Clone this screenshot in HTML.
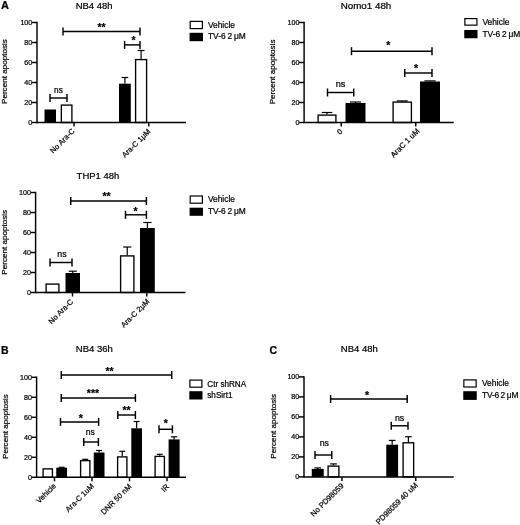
<!DOCTYPE html>
<html><head><meta charset="utf-8"><title>Figure</title>
<style>
html,body{margin:0;padding:0;background:#fff;}
body{width:520px;height:525px;overflow:hidden;}
svg{display:block;}
svg text{font-family:"Liberation Sans", Arial, Helvetica, sans-serif;fill:#000;stroke:#000;stroke-width:0.22px;}
</style></head><body>
<svg width="520" height="525" viewBox="0 0 520 525">
<rect x="0" y="0" width="520" height="525" fill="#fff"/>
<text x="1.00" y="9.40" font-size="11" text-anchor="start" font-weight="bold">A</text>
<text x="94.10" y="9.20" font-size="9.45" text-anchor="middle" font-weight="normal">NB4 48h</text>
<rect x="44.50" y="109.50" width="11.50" height="13.00" fill="#000"/>
<rect x="61.35" y="105.10" width="10.55" height="17.40" fill="#fff" stroke="#000" stroke-width="1.35"/>
<line x1="124.90" y1="77.50" x2="124.90" y2="83.70" stroke="#000" stroke-width="1.2"/>
<line x1="121.60" y1="77.50" x2="128.20" y2="77.50" stroke="#000" stroke-width="1.2"/>
<rect x="119.00" y="83.70" width="11.80" height="38.80" fill="#000"/>
<line x1="141.10" y1="50.50" x2="141.10" y2="59.00" stroke="#000" stroke-width="1.2"/>
<line x1="137.68" y1="50.50" x2="144.52" y2="50.50" stroke="#000" stroke-width="1.2"/>
<rect x="135.60" y="59.60" width="11.00" height="62.90" fill="#fff" stroke="#000" stroke-width="1.35"/>
<line x1="37.00" y1="21.77" x2="37.00" y2="123.22" stroke="#000" stroke-width="1.45"/>
<line x1="32.00" y1="122.50" x2="37.00" y2="122.50" stroke="#000" stroke-width="1.45"/>
<text x="32.30" y="125.05" font-size="7.15" text-anchor="end" font-weight="normal">0</text>
<line x1="32.00" y1="102.50" x2="37.00" y2="102.50" stroke="#000" stroke-width="1.45"/>
<text x="32.30" y="105.05" font-size="7.15" text-anchor="end" font-weight="normal">20</text>
<line x1="32.00" y1="82.50" x2="37.00" y2="82.50" stroke="#000" stroke-width="1.45"/>
<text x="32.30" y="85.05" font-size="7.15" text-anchor="end" font-weight="normal">40</text>
<line x1="32.00" y1="62.50" x2="37.00" y2="62.50" stroke="#000" stroke-width="1.45"/>
<text x="32.30" y="65.05" font-size="7.15" text-anchor="end" font-weight="normal">60</text>
<line x1="32.00" y1="42.50" x2="37.00" y2="42.50" stroke="#000" stroke-width="1.45"/>
<text x="32.30" y="45.05" font-size="7.15" text-anchor="end" font-weight="normal">80</text>
<line x1="32.00" y1="22.50" x2="37.00" y2="22.50" stroke="#000" stroke-width="1.45"/>
<text x="32.30" y="25.05" font-size="7.15" text-anchor="end" font-weight="normal">100</text>
<text x="7.50" y="71.60" font-size="8.1" text-anchor="middle" font-weight="normal" transform="rotate(-90 7.50 71.60)">Percent apoptosis</text>
<line x1="37.00" y1="122.50" x2="186.00" y2="122.50" stroke="#000" stroke-width="1.45"/>
<line x1="74.00" y1="122.50" x2="74.00" y2="126.50" stroke="#000" stroke-width="1.45"/>
<line x1="148.75" y1="122.50" x2="148.75" y2="126.50" stroke="#000" stroke-width="1.45"/>
<line x1="50.00" y1="98.00" x2="67.00" y2="98.00" stroke="#000" stroke-width="1.45"/>
<line x1="50.00" y1="94.00" x2="50.00" y2="102.00" stroke="#000" stroke-width="1.45"/>
<line x1="67.00" y1="94.00" x2="67.00" y2="102.00" stroke="#000" stroke-width="1.45"/>
<text x="58.50" y="92.50" font-size="8.3" text-anchor="middle" font-weight="normal">ns</text>
<line x1="124.60" y1="44.90" x2="140.00" y2="44.90" stroke="#000" stroke-width="1.45"/>
<line x1="124.60" y1="40.90" x2="124.60" y2="48.90" stroke="#000" stroke-width="1.45"/>
<line x1="140.00" y1="40.90" x2="140.00" y2="48.90" stroke="#000" stroke-width="1.45"/>
<text x="133.50" y="44.40" font-size="10.5" text-anchor="middle" font-weight="bold">*</text>
<line x1="63.00" y1="31.40" x2="140.00" y2="31.40" stroke="#000" stroke-width="1.45"/>
<line x1="63.00" y1="27.40" x2="63.00" y2="35.40" stroke="#000" stroke-width="1.45"/>
<line x1="140.00" y1="27.40" x2="140.00" y2="35.40" stroke="#000" stroke-width="1.45"/>
<text x="101.50" y="30.90" font-size="10.5" text-anchor="middle" font-weight="bold">**</text>
<text x="75.20" y="131.70" font-size="7.6" text-anchor="end" font-weight="normal" transform="rotate(-45 75.20 131.70)">No Ara-C</text>
<text x="151.00" y="132.00" font-size="7.6" text-anchor="end" font-weight="normal" transform="rotate(-45 151.00 132.00)">Ara-C 1μM</text>
<rect x="190.20" y="21.40" width="12.20" height="7.20" fill="#fff" stroke="#000" stroke-width="1.2"/>
<rect x="189.60" y="32.80" width="13.40" height="8.40" fill="#000"/>
<text x="207.90" y="27.50" font-size="8.4" text-anchor="start" font-weight="normal">Vehicle</text>
<text x="207.90" y="39.30" font-size="8.4" text-anchor="start" font-weight="normal" word-spacing="-0.45" letter-spacing="0">TV-6 2 μM</text>
<text x="366.00" y="9.00" font-size="9.8" text-anchor="middle" font-weight="normal">Nomo1 48h</text>
<line x1="327.00" y1="112.50" x2="327.00" y2="114.50" stroke="#000" stroke-width="1.2"/>
<line x1="321.68" y1="112.50" x2="332.32" y2="112.50" stroke="#000" stroke-width="1.2"/>
<rect x="318.10" y="115.10" width="17.80" height="7.40" fill="#fff" stroke="#000" stroke-width="1.35"/>
<line x1="355.50" y1="102.00" x2="355.50" y2="103.00" stroke="#000" stroke-width="1.2"/>
<line x1="349.90" y1="102.00" x2="361.10" y2="102.00" stroke="#000" stroke-width="1.2"/>
<rect x="345.50" y="103.00" width="20.00" height="19.50" fill="#000"/>
<line x1="402.25" y1="100.90" x2="402.25" y2="101.50" stroke="#000" stroke-width="1.2"/>
<line x1="396.79" y1="100.90" x2="407.71" y2="100.90" stroke="#000" stroke-width="1.2"/>
<rect x="393.10" y="102.10" width="18.30" height="20.40" fill="#fff" stroke="#000" stroke-width="1.35"/>
<line x1="430.00" y1="80.90" x2="430.00" y2="81.50" stroke="#000" stroke-width="1.2"/>
<line x1="424.40" y1="80.90" x2="435.60" y2="80.90" stroke="#000" stroke-width="1.2"/>
<rect x="420.00" y="81.50" width="20.00" height="41.00" fill="#000"/>
<line x1="304.10" y1="21.77" x2="304.10" y2="123.22" stroke="#000" stroke-width="1.45"/>
<line x1="299.10" y1="122.50" x2="304.10" y2="122.50" stroke="#000" stroke-width="1.45"/>
<text x="299.40" y="125.05" font-size="7.15" text-anchor="end" font-weight="normal">0</text>
<line x1="299.10" y1="102.50" x2="304.10" y2="102.50" stroke="#000" stroke-width="1.45"/>
<text x="299.40" y="105.05" font-size="7.15" text-anchor="end" font-weight="normal">20</text>
<line x1="299.10" y1="82.50" x2="304.10" y2="82.50" stroke="#000" stroke-width="1.45"/>
<text x="299.40" y="85.05" font-size="7.15" text-anchor="end" font-weight="normal">40</text>
<line x1="299.10" y1="62.50" x2="304.10" y2="62.50" stroke="#000" stroke-width="1.45"/>
<text x="299.40" y="65.05" font-size="7.15" text-anchor="end" font-weight="normal">60</text>
<line x1="299.10" y1="42.50" x2="304.10" y2="42.50" stroke="#000" stroke-width="1.45"/>
<text x="299.40" y="45.05" font-size="7.15" text-anchor="end" font-weight="normal">80</text>
<line x1="299.10" y1="22.50" x2="304.10" y2="22.50" stroke="#000" stroke-width="1.45"/>
<text x="299.40" y="25.05" font-size="7.15" text-anchor="end" font-weight="normal">100</text>
<text x="274.90" y="71.90" font-size="8.1" text-anchor="middle" font-weight="normal" transform="rotate(-90 274.90 71.90)">Percent apoptosis</text>
<line x1="304.10" y1="122.50" x2="453.75" y2="122.50" stroke="#000" stroke-width="1.45"/>
<line x1="341.25" y1="122.50" x2="341.25" y2="126.50" stroke="#000" stroke-width="1.45"/>
<line x1="415.75" y1="122.50" x2="415.75" y2="126.50" stroke="#000" stroke-width="1.45"/>
<line x1="327.50" y1="92.50" x2="353.75" y2="92.50" stroke="#000" stroke-width="1.45"/>
<line x1="327.50" y1="88.50" x2="327.50" y2="96.50" stroke="#000" stroke-width="1.45"/>
<line x1="353.75" y1="88.50" x2="353.75" y2="96.50" stroke="#000" stroke-width="1.45"/>
<text x="340.62" y="86.70" font-size="9.2" text-anchor="middle" font-weight="normal">ns</text>
<line x1="404.75" y1="73.00" x2="432.00" y2="73.00" stroke="#000" stroke-width="1.45"/>
<line x1="404.75" y1="69.00" x2="404.75" y2="77.00" stroke="#000" stroke-width="1.45"/>
<line x1="432.00" y1="69.00" x2="432.00" y2="77.00" stroke="#000" stroke-width="1.45"/>
<text x="416.00" y="71.60" font-size="10.5" text-anchor="middle" font-weight="bold">*</text>
<line x1="351.50" y1="51.20" x2="432.00" y2="51.20" stroke="#000" stroke-width="1.45"/>
<line x1="351.50" y1="47.20" x2="351.50" y2="55.20" stroke="#000" stroke-width="1.45"/>
<line x1="432.00" y1="47.20" x2="432.00" y2="55.20" stroke="#000" stroke-width="1.45"/>
<text x="388.20" y="49.20" font-size="10.5" text-anchor="middle" font-weight="bold">*</text>
<text x="343.00" y="132.00" font-size="7.6" text-anchor="end" font-weight="normal" transform="rotate(-45 343.00 132.00)">0</text>
<text x="420.00" y="131.60" font-size="7.8" text-anchor="end" font-weight="normal" transform="rotate(-45 420.00 131.60)">AraC 1 uM</text>
<rect x="464.85" y="18.60" width="12.05" height="6.55" fill="#fff" stroke="#000" stroke-width="1.2"/>
<rect x="464.25" y="30.00" width="13.25" height="8.25" fill="#000"/>
<text x="482.40" y="25.00" font-size="8.4" text-anchor="start" font-weight="normal">Vehicle</text>
<text x="482.40" y="37.00" font-size="8.4" text-anchor="start" font-weight="normal" word-spacing="-0.45" letter-spacing="0">TV-6 2 μM</text>
<text x="98.00" y="179.20" font-size="9.5" text-anchor="middle" font-weight="normal">THP1 48h</text>
<rect x="46.10" y="284.10" width="12.80" height="8.40" fill="#fff" stroke="#000" stroke-width="1.35"/>
<line x1="72.75" y1="271.20" x2="72.75" y2="273.00" stroke="#000" stroke-width="1.2"/>
<line x1="68.69" y1="271.20" x2="76.81" y2="271.20" stroke="#000" stroke-width="1.2"/>
<rect x="65.50" y="273.00" width="14.50" height="19.50" fill="#000"/>
<line x1="127.25" y1="247.00" x2="127.25" y2="255.30" stroke="#000" stroke-width="1.2"/>
<line x1="123.19" y1="247.00" x2="131.31" y2="247.00" stroke="#000" stroke-width="1.2"/>
<rect x="120.60" y="255.90" width="13.30" height="36.60" fill="#fff" stroke="#000" stroke-width="1.35"/>
<line x1="147.40" y1="222.50" x2="147.40" y2="228.00" stroke="#000" stroke-width="1.2"/>
<line x1="143.26" y1="222.50" x2="151.54" y2="222.50" stroke="#000" stroke-width="1.2"/>
<rect x="140.00" y="228.00" width="14.80" height="64.50" fill="#000"/>
<line x1="35.60" y1="191.78" x2="35.60" y2="293.23" stroke="#000" stroke-width="1.45"/>
<line x1="30.60" y1="292.50" x2="35.60" y2="292.50" stroke="#000" stroke-width="1.45"/>
<text x="30.90" y="295.05" font-size="7.15" text-anchor="end" font-weight="normal">0</text>
<line x1="30.60" y1="272.50" x2="35.60" y2="272.50" stroke="#000" stroke-width="1.45"/>
<text x="30.90" y="275.05" font-size="7.15" text-anchor="end" font-weight="normal">20</text>
<line x1="30.60" y1="252.50" x2="35.60" y2="252.50" stroke="#000" stroke-width="1.45"/>
<text x="30.90" y="255.05" font-size="7.15" text-anchor="end" font-weight="normal">40</text>
<line x1="30.60" y1="232.50" x2="35.60" y2="232.50" stroke="#000" stroke-width="1.45"/>
<text x="30.90" y="235.05" font-size="7.15" text-anchor="end" font-weight="normal">60</text>
<line x1="30.60" y1="212.50" x2="35.60" y2="212.50" stroke="#000" stroke-width="1.45"/>
<text x="30.90" y="215.05" font-size="7.15" text-anchor="end" font-weight="normal">80</text>
<line x1="30.60" y1="192.50" x2="35.60" y2="192.50" stroke="#000" stroke-width="1.45"/>
<text x="30.90" y="195.05" font-size="7.15" text-anchor="end" font-weight="normal">100</text>
<text x="6.60" y="242.30" font-size="8.1" text-anchor="middle" font-weight="normal" transform="rotate(-90 6.60 242.30)">Percent apoptosis</text>
<line x1="35.60" y1="292.50" x2="185.50" y2="292.50" stroke="#000" stroke-width="1.45"/>
<line x1="72.50" y1="292.50" x2="72.50" y2="296.50" stroke="#000" stroke-width="1.45"/>
<line x1="146.80" y1="292.50" x2="146.80" y2="296.50" stroke="#000" stroke-width="1.45"/>
<line x1="50.00" y1="262.50" x2="72.00" y2="262.50" stroke="#000" stroke-width="1.45"/>
<line x1="50.00" y1="258.50" x2="50.00" y2="266.50" stroke="#000" stroke-width="1.45"/>
<line x1="72.00" y1="258.50" x2="72.00" y2="266.50" stroke="#000" stroke-width="1.45"/>
<text x="62.00" y="256.60" font-size="8.8" text-anchor="middle" font-weight="normal">ns</text>
<line x1="125.50" y1="214.80" x2="146.40" y2="214.80" stroke="#000" stroke-width="1.45"/>
<line x1="125.50" y1="210.80" x2="125.50" y2="218.80" stroke="#000" stroke-width="1.45"/>
<line x1="146.40" y1="210.80" x2="146.40" y2="218.80" stroke="#000" stroke-width="1.45"/>
<text x="135.50" y="214.70" font-size="10.5" text-anchor="middle" font-weight="bold">*</text>
<line x1="70.75" y1="201.00" x2="146.40" y2="201.00" stroke="#000" stroke-width="1.45"/>
<line x1="70.75" y1="197.00" x2="70.75" y2="205.00" stroke="#000" stroke-width="1.45"/>
<line x1="146.40" y1="197.00" x2="146.40" y2="205.00" stroke="#000" stroke-width="1.45"/>
<text x="106.50" y="200.00" font-size="10.5" text-anchor="middle" font-weight="bold">**</text>
<text x="73.70" y="302.30" font-size="7.6" text-anchor="end" font-weight="normal" transform="rotate(-45 73.70 302.30)">No Ara-C</text>
<text x="150.00" y="302.00" font-size="7.6" text-anchor="end" font-weight="normal" transform="rotate(-45 150.00 302.00)">Ara-C 2μM</text>
<rect x="190.20" y="196.00" width="12.20" height="7.20" fill="#fff" stroke="#000" stroke-width="1.2"/>
<rect x="189.60" y="207.70" width="13.40" height="8.10" fill="#000"/>
<text x="207.90" y="202.10" font-size="8.4" text-anchor="start" font-weight="normal">Vehicle</text>
<text x="207.90" y="214.00" font-size="8.4" text-anchor="start" font-weight="normal" word-spacing="-0.45" letter-spacing="0">TV-6 2 μM</text>
<text x="1.00" y="353.70" font-size="10.5" text-anchor="start" font-weight="bold">B</text>
<text x="94.30" y="352.00" font-size="9.5" text-anchor="middle" font-weight="normal">NB4 36h</text>
<rect x="43.10" y="468.90" width="9.30" height="8.40" fill="#fff" stroke="#000" stroke-width="1.35"/>
<line x1="61.62" y1="467.30" x2="61.62" y2="467.70" stroke="#000" stroke-width="1.2"/>
<line x1="58.62" y1="467.30" x2="64.64" y2="467.30" stroke="#000" stroke-width="1.2"/>
<rect x="56.25" y="467.70" width="10.75" height="9.60" fill="#000"/>
<line x1="85.25" y1="459.30" x2="85.25" y2="460.00" stroke="#000" stroke-width="1.2"/>
<line x1="82.31" y1="459.30" x2="88.19" y2="459.30" stroke="#000" stroke-width="1.2"/>
<rect x="80.60" y="460.60" width="9.30" height="16.70" fill="#fff" stroke="#000" stroke-width="1.35"/>
<line x1="99.12" y1="450.50" x2="99.12" y2="452.50" stroke="#000" stroke-width="1.2"/>
<line x1="96.11" y1="450.50" x2="102.14" y2="450.50" stroke="#000" stroke-width="1.2"/>
<rect x="93.75" y="452.50" width="10.75" height="24.80" fill="#000"/>
<line x1="122.25" y1="451.30" x2="122.25" y2="456.30" stroke="#000" stroke-width="1.2"/>
<line x1="119.31" y1="451.30" x2="125.19" y2="451.30" stroke="#000" stroke-width="1.2"/>
<rect x="117.60" y="456.90" width="9.30" height="20.40" fill="#fff" stroke="#000" stroke-width="1.35"/>
<line x1="136.65" y1="421.50" x2="136.65" y2="428.30" stroke="#000" stroke-width="1.2"/>
<line x1="133.65" y1="421.50" x2="139.65" y2="421.50" stroke="#000" stroke-width="1.2"/>
<rect x="131.30" y="428.30" width="10.70" height="49.00" fill="#000"/>
<line x1="159.75" y1="454.30" x2="159.75" y2="455.80" stroke="#000" stroke-width="1.2"/>
<line x1="156.81" y1="454.30" x2="162.69" y2="454.30" stroke="#000" stroke-width="1.2"/>
<rect x="155.10" y="456.40" width="9.30" height="20.90" fill="#fff" stroke="#000" stroke-width="1.35"/>
<line x1="174.10" y1="436.80" x2="174.10" y2="439.40" stroke="#000" stroke-width="1.2"/>
<line x1="171.02" y1="436.80" x2="177.18" y2="436.80" stroke="#000" stroke-width="1.2"/>
<rect x="168.60" y="439.40" width="11.00" height="37.90" fill="#000"/>
<line x1="36.60" y1="376.57" x2="36.60" y2="478.03" stroke="#000" stroke-width="1.45"/>
<line x1="31.60" y1="477.30" x2="36.60" y2="477.30" stroke="#000" stroke-width="1.45"/>
<text x="31.90" y="479.85" font-size="7.15" text-anchor="end" font-weight="normal">0</text>
<line x1="31.60" y1="457.30" x2="36.60" y2="457.30" stroke="#000" stroke-width="1.45"/>
<text x="31.90" y="459.85" font-size="7.15" text-anchor="end" font-weight="normal">20</text>
<line x1="31.60" y1="437.30" x2="36.60" y2="437.30" stroke="#000" stroke-width="1.45"/>
<text x="31.90" y="439.85" font-size="7.15" text-anchor="end" font-weight="normal">40</text>
<line x1="31.60" y1="417.30" x2="36.60" y2="417.30" stroke="#000" stroke-width="1.45"/>
<text x="31.90" y="419.85" font-size="7.15" text-anchor="end" font-weight="normal">60</text>
<line x1="31.60" y1="397.30" x2="36.60" y2="397.30" stroke="#000" stroke-width="1.45"/>
<text x="31.90" y="399.85" font-size="7.15" text-anchor="end" font-weight="normal">80</text>
<line x1="31.60" y1="377.30" x2="36.60" y2="377.30" stroke="#000" stroke-width="1.45"/>
<text x="31.90" y="379.85" font-size="7.15" text-anchor="end" font-weight="normal">100</text>
<text x="8.30" y="426.60" font-size="8.1" text-anchor="middle" font-weight="normal" transform="rotate(-90 8.30 426.60)">Percent apoptosis</text>
<line x1="36.60" y1="477.30" x2="186.00" y2="477.30" stroke="#000" stroke-width="1.45"/>
<line x1="54.50" y1="477.30" x2="54.50" y2="481.30" stroke="#000" stroke-width="1.45"/>
<line x1="92.00" y1="477.30" x2="92.00" y2="481.30" stroke="#000" stroke-width="1.45"/>
<line x1="129.50" y1="477.30" x2="129.50" y2="481.30" stroke="#000" stroke-width="1.45"/>
<line x1="167.00" y1="477.30" x2="167.00" y2="481.30" stroke="#000" stroke-width="1.45"/>
<line x1="61.25" y1="375.00" x2="171.70" y2="375.00" stroke="#000" stroke-width="1.45"/>
<line x1="61.25" y1="371.00" x2="61.25" y2="379.00" stroke="#000" stroke-width="1.45"/>
<line x1="171.70" y1="371.00" x2="171.70" y2="379.00" stroke="#000" stroke-width="1.45"/>
<text x="109.50" y="374.55" font-size="10.5" text-anchor="middle" font-weight="bold">**</text>
<line x1="61.25" y1="397.90" x2="135.40" y2="397.90" stroke="#000" stroke-width="1.45"/>
<line x1="61.25" y1="393.90" x2="61.25" y2="401.90" stroke="#000" stroke-width="1.45"/>
<line x1="135.40" y1="393.90" x2="135.40" y2="401.90" stroke="#000" stroke-width="1.45"/>
<text x="93.00" y="396.50" font-size="10.5" text-anchor="middle" font-weight="bold">***</text>
<line x1="60.50" y1="421.90" x2="98.60" y2="421.90" stroke="#000" stroke-width="1.45"/>
<line x1="60.50" y1="417.90" x2="60.50" y2="425.90" stroke="#000" stroke-width="1.45"/>
<line x1="98.60" y1="417.90" x2="98.60" y2="425.90" stroke="#000" stroke-width="1.45"/>
<text x="80.70" y="421.50" font-size="10.5" text-anchor="middle" font-weight="bold">*</text>
<line x1="83.75" y1="442.00" x2="98.40" y2="442.00" stroke="#000" stroke-width="1.45"/>
<line x1="83.75" y1="438.00" x2="83.75" y2="446.00" stroke="#000" stroke-width="1.45"/>
<line x1="98.40" y1="438.00" x2="98.40" y2="446.00" stroke="#000" stroke-width="1.45"/>
<text x="90.30" y="435.30" font-size="8.6" text-anchor="middle" font-weight="normal">ns</text>
<line x1="117.80" y1="415.00" x2="135.40" y2="415.00" stroke="#000" stroke-width="1.45"/>
<line x1="117.80" y1="411.00" x2="117.80" y2="419.00" stroke="#000" stroke-width="1.45"/>
<line x1="135.40" y1="411.00" x2="135.40" y2="419.00" stroke="#000" stroke-width="1.45"/>
<text x="126.60" y="413.80" font-size="10.5" text-anchor="middle" font-weight="bold">**</text>
<line x1="159.00" y1="429.30" x2="172.40" y2="429.30" stroke="#000" stroke-width="1.45"/>
<line x1="159.00" y1="425.30" x2="159.00" y2="433.30" stroke="#000" stroke-width="1.45"/>
<line x1="172.40" y1="425.30" x2="172.40" y2="433.30" stroke="#000" stroke-width="1.45"/>
<text x="165.70" y="427.10" font-size="10.5" text-anchor="middle" font-weight="bold">*</text>
<text x="56.50" y="486.50" font-size="7.6" text-anchor="end" font-weight="normal" transform="rotate(-45 56.50 486.50)">Vehicle</text>
<text x="94.50" y="486.50" font-size="7.6" text-anchor="end" font-weight="normal" transform="rotate(-45 94.50 486.50)">Ara-C 1uM</text>
<text x="132.00" y="487.00" font-size="7.6" text-anchor="end" font-weight="normal" transform="rotate(-45 132.00 487.00)">DNR 50 nM</text>
<text x="169.70" y="487.00" font-size="7.6" text-anchor="end" font-weight="normal" transform="rotate(-45 169.70 487.00)">IR</text>
<rect x="189.90" y="380.10" width="12.00" height="7.10" fill="#fff" stroke="#000" stroke-width="1.2"/>
<rect x="189.30" y="391.20" width="13.20" height="8.30" fill="#000"/>
<text x="207.30" y="386.60" font-size="8.15" text-anchor="start" font-weight="normal">Ctr shRNA</text>
<text x="207.30" y="398.40" font-size="8.15" text-anchor="start" font-weight="normal">shSirt1</text>
<text x="269.50" y="354.00" font-size="10.5" text-anchor="start" font-weight="bold">C</text>
<text x="359.30" y="352.00" font-size="9.5" text-anchor="middle" font-weight="normal">NB4 48h</text>
<line x1="317.75" y1="467.90" x2="317.75" y2="468.90" stroke="#000" stroke-width="1.2"/>
<line x1="314.39" y1="467.90" x2="321.11" y2="467.90" stroke="#000" stroke-width="1.2"/>
<rect x="311.75" y="468.90" width="12.00" height="8.00" fill="#000"/>
<line x1="333.50" y1="463.90" x2="333.50" y2="465.50" stroke="#000" stroke-width="1.2"/>
<line x1="330.14" y1="463.90" x2="336.86" y2="463.90" stroke="#000" stroke-width="1.2"/>
<rect x="328.10" y="466.10" width="10.80" height="10.80" fill="#fff" stroke="#000" stroke-width="1.35"/>
<line x1="392.18" y1="440.40" x2="392.18" y2="444.70" stroke="#000" stroke-width="1.2"/>
<line x1="388.86" y1="440.40" x2="395.49" y2="440.40" stroke="#000" stroke-width="1.2"/>
<rect x="386.25" y="444.70" width="11.85" height="32.20" fill="#000"/>
<line x1="408.38" y1="436.70" x2="408.38" y2="442.20" stroke="#000" stroke-width="1.2"/>
<line x1="405.08" y1="436.70" x2="411.67" y2="436.70" stroke="#000" stroke-width="1.2"/>
<rect x="403.10" y="442.80" width="10.55" height="34.10" fill="#fff" stroke="#000" stroke-width="1.35"/>
<line x1="304.00" y1="376.17" x2="304.00" y2="477.62" stroke="#000" stroke-width="1.45"/>
<line x1="299.00" y1="476.90" x2="304.00" y2="476.90" stroke="#000" stroke-width="1.45"/>
<text x="299.30" y="479.45" font-size="7.15" text-anchor="end" font-weight="normal">0</text>
<line x1="299.00" y1="456.90" x2="304.00" y2="456.90" stroke="#000" stroke-width="1.45"/>
<text x="299.30" y="459.45" font-size="7.15" text-anchor="end" font-weight="normal">20</text>
<line x1="299.00" y1="436.90" x2="304.00" y2="436.90" stroke="#000" stroke-width="1.45"/>
<text x="299.30" y="439.45" font-size="7.15" text-anchor="end" font-weight="normal">40</text>
<line x1="299.00" y1="416.90" x2="304.00" y2="416.90" stroke="#000" stroke-width="1.45"/>
<text x="299.30" y="419.45" font-size="7.15" text-anchor="end" font-weight="normal">60</text>
<line x1="299.00" y1="396.90" x2="304.00" y2="396.90" stroke="#000" stroke-width="1.45"/>
<text x="299.30" y="399.45" font-size="7.15" text-anchor="end" font-weight="normal">80</text>
<line x1="299.00" y1="376.90" x2="304.00" y2="376.90" stroke="#000" stroke-width="1.45"/>
<text x="299.30" y="379.45" font-size="7.15" text-anchor="end" font-weight="normal">100</text>
<text x="276.00" y="426.30" font-size="8.1" text-anchor="middle" font-weight="normal" transform="rotate(-90 276.00 426.30)">Percent apoptosis</text>
<line x1="304.00" y1="476.90" x2="453.75" y2="476.90" stroke="#000" stroke-width="1.45"/>
<line x1="342.00" y1="476.90" x2="342.00" y2="480.90" stroke="#000" stroke-width="1.45"/>
<line x1="415.75" y1="476.90" x2="415.75" y2="480.90" stroke="#000" stroke-width="1.45"/>
<line x1="330.60" y1="399.00" x2="407.20" y2="399.00" stroke="#000" stroke-width="1.45"/>
<line x1="330.60" y1="395.00" x2="330.60" y2="403.00" stroke="#000" stroke-width="1.45"/>
<line x1="407.20" y1="395.00" x2="407.20" y2="403.00" stroke="#000" stroke-width="1.45"/>
<text x="367.00" y="398.80" font-size="10.5" text-anchor="middle" font-weight="bold">*</text>
<line x1="315.00" y1="455.00" x2="331.75" y2="455.00" stroke="#000" stroke-width="1.45"/>
<line x1="315.00" y1="451.00" x2="315.00" y2="459.00" stroke="#000" stroke-width="1.45"/>
<line x1="331.75" y1="451.00" x2="331.75" y2="459.00" stroke="#000" stroke-width="1.45"/>
<text x="324.30" y="446.40" font-size="8.8" text-anchor="middle" font-weight="normal">ns</text>
<line x1="391.25" y1="425.80" x2="408.00" y2="425.80" stroke="#000" stroke-width="1.45"/>
<line x1="391.25" y1="421.80" x2="391.25" y2="429.80" stroke="#000" stroke-width="1.45"/>
<line x1="408.00" y1="421.80" x2="408.00" y2="429.80" stroke="#000" stroke-width="1.45"/>
<text x="399.62" y="420.50" font-size="8.8" text-anchor="middle" font-weight="normal">ns</text>
<text x="344.30" y="486.20" font-size="7.6" text-anchor="end" font-weight="normal" transform="rotate(-45 344.30 486.20)">No PD98059</text>
<text x="418.20" y="485.60" font-size="7.7" text-anchor="end" font-weight="normal" transform="rotate(-45 418.20 485.60)">PD98059 40 uM</text>
<rect x="463.85" y="379.90" width="12.30" height="7.10" fill="#fff" stroke="#000" stroke-width="1.2"/>
<rect x="463.25" y="391.20" width="13.50" height="8.70" fill="#000"/>
<text x="482.00" y="386.20" font-size="8.4" text-anchor="start" font-weight="normal">Vehicle</text>
<text x="482.00" y="397.80" font-size="8.4" text-anchor="start" font-weight="normal" word-spacing="-0.5" letter-spacing="-0.18">TV-6 2 μM</text>
</svg>
</body></html>
